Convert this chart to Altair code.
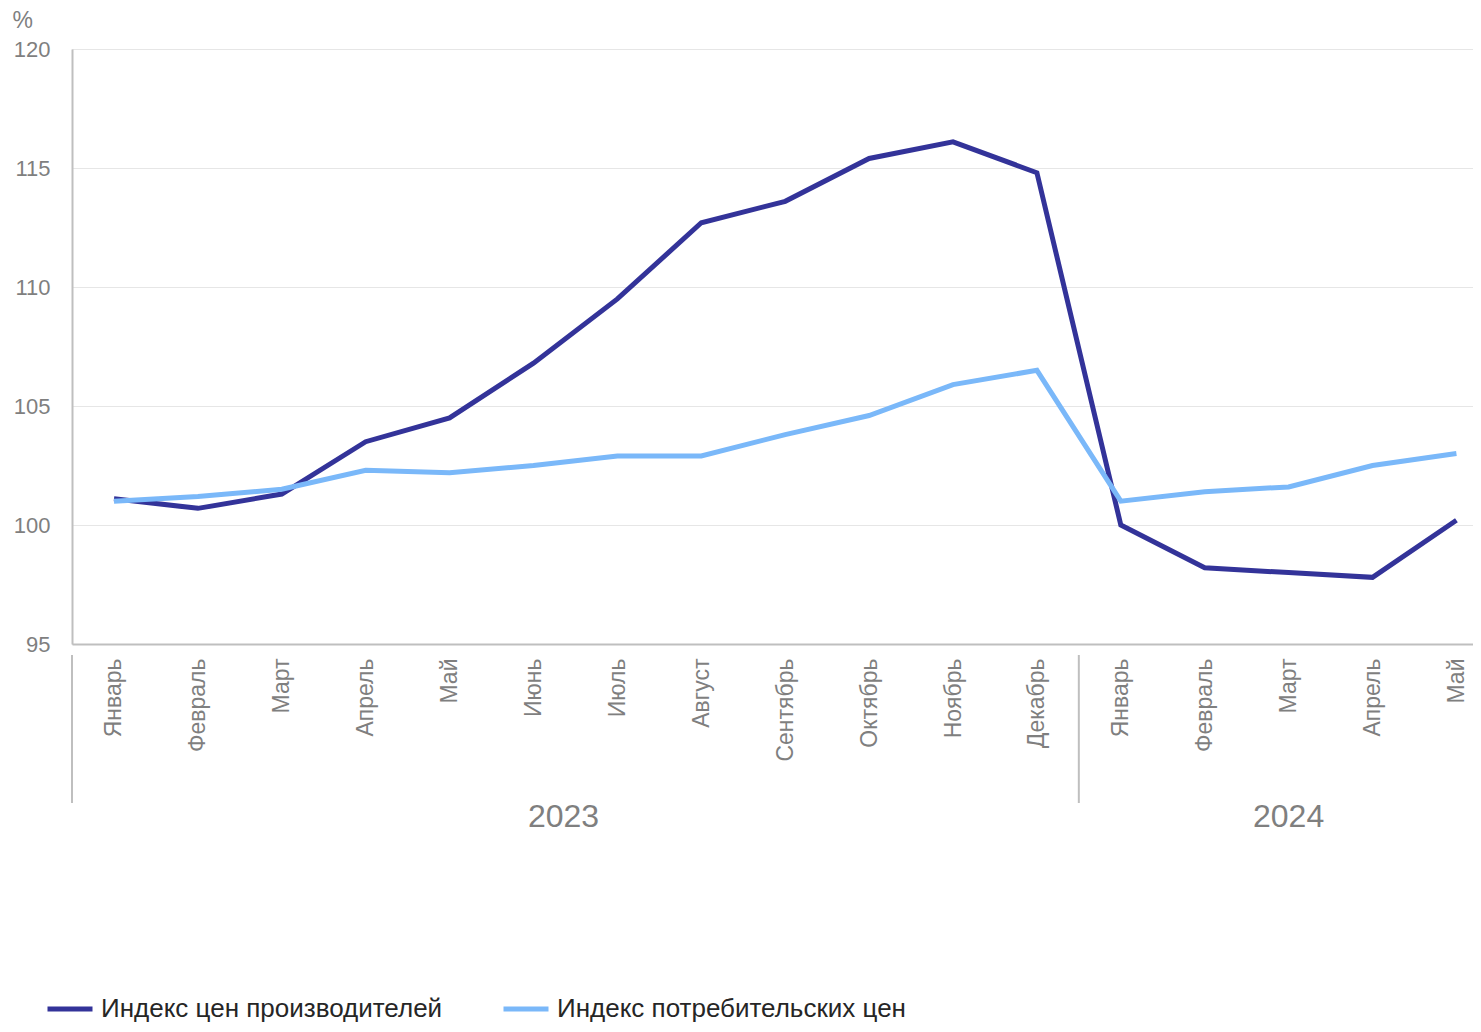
import json
import altair as alt
import pandas as pd

# ---- data ----
months = ["Январь", "Февраль", "Март", "Апрель", "Май", "Июнь", "Июль", "Август",
          "Сентябрь", "Октябрь", "Ноябрь", "Декабрь",
          "Январь", "Февраль", "Март", "Апрель", "Май"]
years = [2023] * 12 + [2024] * 5
ppi = [101.1, 100.7, 101.3, 103.5, 104.5, 106.8, 109.5, 112.7, 113.6, 115.4, 116.1, 114.8,
       100.0, 98.2, 98.0, 97.8, 100.2]
cpi = [101.0, 101.2, 101.5, 102.3, 102.2, 102.5, 102.9, 102.9, 103.8, 104.6, 105.9, 106.5,
       101.0, 101.4, 101.6, 102.5, 103.0]
series_names = ["Индекс цен производителей", "Индекс потребительских цен"]
series_colors = ["#333399", "#7AB8F9"]
y_ticks = [95, 100, 105, 110, 115, 120]

rows = []
for name, vals in zip(series_names, [ppi, cpi]):
    for i, v in enumerate(vals):
        rows.append({"i": i, "month": months[i], "year": years[i], "series": name, "value": v})
df = pd.DataFrame(rows)

# group boundaries / year label anchors
yr_rows = []
bound_rows = []
for y in sorted(set(years)):
    idx = [i for i, yy in enumerate(years) if yy == y]
    bound_rows.append({"i": idx[0]})
    yr_rows.append({"i": (idx[0] + idx[-1]) // 2, "label": str(y), "year": y})
yr_df = pd.DataFrame(yr_rows)
bound_df = pd.DataFrame(bound_rows)

label_expr = json.dumps(months, ensure_ascii=False) + "[datum.value]"

x_enc = alt.X(
    "i:O",
    scale=alt.Scale(type="point", padding=0.349, align=0.717),
    axis=alt.Axis(
        labelExpr=label_expr, labelAngle=270, labelFontSize=23, labelColor="#7f7f7f",
        labelPadding=14, ticks=False, grid=False, domainColor="#bfbfbf", domainWidth=2,
        title=None, labelLimit=300,
    ),
)

lines = alt.Chart(df).mark_line(strokeWidth=5).encode(
    x=x_enc,
    y=alt.Y(
        "value:Q",
        scale=alt.Scale(domain=[95, 120], nice=False, zero=False),
        axis=alt.Axis(
            values=y_ticks, title="%", titleAngle=0, titleAlign="left", titleX=-60,
            titleY=-22, titleBaseline="alphabetic", titleFontSize=23,
            titleFontWeight="normal", titleColor="#7f7f7f",
            labelFontSize=22, labelColor="#7f7f7f", labelPadding=22, ticks=False,
            domainColor="#bfbfbf", domainWidth=2, gridColor="#e6e6e6", gridWidth=1,
        ),
    ),
    color=alt.Color(
        "series:N",
        scale=alt.Scale(domain=series_names, range=series_colors),
        legend=alt.Legend(
            orient="none", legendX=-27, legendY=935, direction="horizontal", title=None,
            symbolType="stroke", symbolSize=2025, symbolStrokeWidth=5, labelFontSize=26,
            labelColor="#262626", columnPadding=50, labelLimit=600, labelOffset=6,
            padding=0,
        ),
    ),
    detail="series:N",
)

seps = alt.Chart(bound_df).mark_rule(color="#bfbfbf", strokeWidth=2, xOffset=-42).encode(
    x="i:O", y=alt.value(606), y2=alt.value(754)
)

yr1 = alt.Chart(yr_df).transform_filter(alt.datum.year == 2023).mark_text(
    fontSize=32, color="#7f7f7f", baseline="alphabetic", align="center", dx=30
).encode(x="i:O", y=alt.value(778), text="label:N")

yr2 = alt.Chart(yr_df).transform_filter(alt.datum.year == 2024).mark_text(
    fontSize=32, color="#7f7f7f", baseline="alphabetic", align="center", dx=0
).encode(x="i:O", y=alt.value(778), text="label:N")

chart = alt.layer(lines, seps, yr1, yr2).properties(
    width=1401, height=595,
    padding={"left": 64, "top": 41, "right": 0, "bottom": 378},
    autosize=alt.AutoSizeParams(type="none"),
).configure_view(stroke=None).configure(font="Liberation Sans")

chart.save("out.html", embed_options={"renderer": "svg", "actions": False})
